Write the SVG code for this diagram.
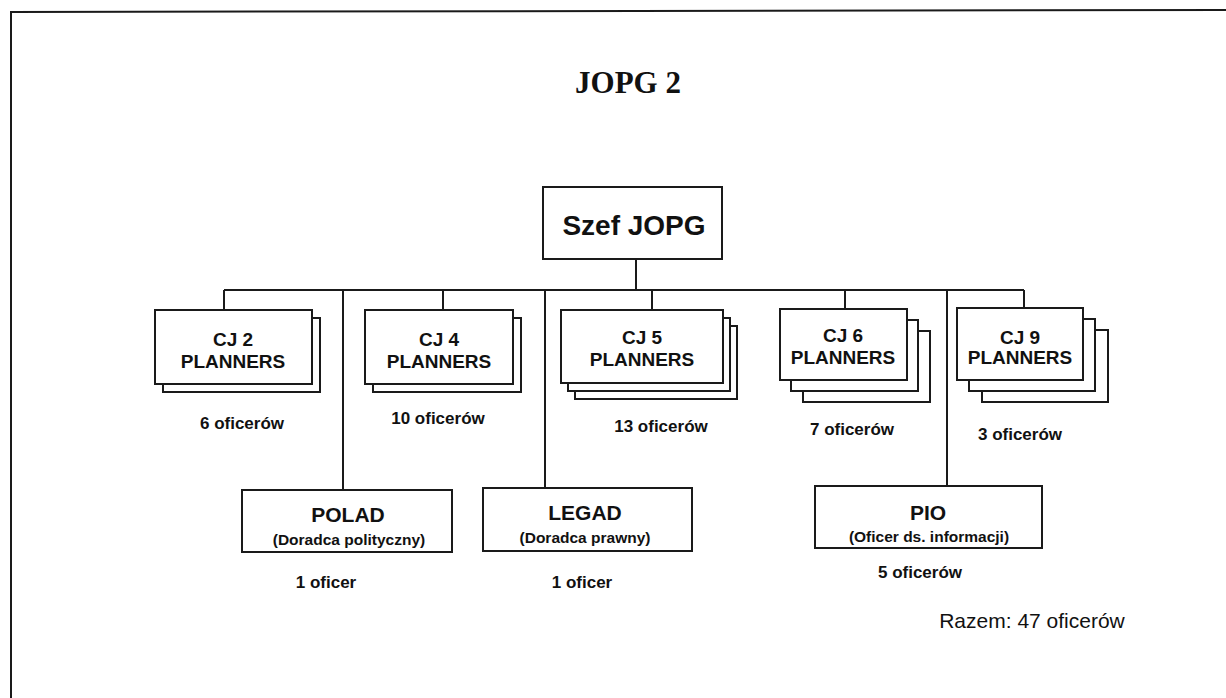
<svg xmlns="http://www.w3.org/2000/svg" width="1226" height="698" viewBox="0 0 1226 698">
<style>
.frame{fill:none;stroke:#1a1a1a;stroke-width:2}
.box{fill:#fff;stroke:#1a1a1a;stroke-width:2}
.ln{fill:none;stroke:#1a1a1a;stroke-width:2}
.t{font-family:"Liberation Sans",Arial,sans-serif;fill:#111;text-anchor:middle}
.b{font-weight:bold}
.title{font-family:"Liberation Serif","Times New Roman",serif;font-weight:bold;font-size:31px;fill:#111;text-anchor:middle}
.cj{font-size:19px;font-weight:bold}
.cnt{font-size:17px;font-weight:bold}
.hd{font-size:21px;font-weight:bold}
.sub{font-size:15.5px;font-weight:bold}
</style>
<rect x="0" y="0" width="1226" height="698" fill="#fff"/>
<path class="frame" d="M11,698 L11,12 L1226,10"/>
<text class="title" x="628" y="93">JOPG 2</text>

<g id="connectors">
<path class="ln" d="M636,259 V290"/>
<path class="ln" d="M224,290 H1024"/>
<path class="ln" d="M224,290 V310"/>
<path class="ln" d="M343,290 V490"/>
<path class="ln" d="M443,290 V310"/>
<path class="ln" d="M545,290 V488"/>
<path class="ln" d="M652,290 V310"/>
<path class="ln" d="M845,290 V309"/>
<path class="ln" d="M947,290 V486"/>
<path class="ln" d="M1024,290 V308"/>
</g>

<g id="szef">
<rect class="box" x="543" y="187" width="179" height="72"/>
<text class="t b" x="634" y="235" font-size="28">Szef JOPG</text>
</g>

<g id="cj2">
<rect class="box" x="163" y="318" width="157" height="74"/>
<rect class="box" x="155" y="310" width="157" height="74"/>
<text class="t cj" x="233" y="346">CJ 2</text>
<text class="t cj" x="233" y="368">PLANNERS</text>
<text class="t cnt" x="242" y="429">6 oficerów</text>
</g>

<g id="cj4">
<rect class="box" x="373" y="318" width="148" height="74"/>
<rect class="box" x="365" y="310" width="148" height="74"/>
<text class="t cj" x="439" y="346">CJ 4</text>
<text class="t cj" x="439" y="368">PLANNERS</text>
<text class="t cnt" x="438" y="424">10 oficerów</text>
</g>

<g id="cj5">
<rect class="box" x="575" y="326" width="162" height="73"/>
<rect class="box" x="568" y="318" width="162" height="73"/>
<rect class="box" x="561" y="310" width="162" height="73"/>
<text class="t cj" x="642" y="344">CJ 5</text>
<text class="t cj" x="642" y="366">PLANNERS</text>
<text class="t cnt" x="661" y="432">13 oficerów</text>
</g>

<g id="cj6">
<rect class="box" x="803" y="331" width="127" height="71"/>
<rect class="box" x="791" y="320" width="127" height="71"/>
<rect class="box" x="780" y="309" width="127" height="71"/>
<text class="t cj" x="843" y="342">CJ 6</text>
<text class="t cj" x="843" y="364">PLANNERS</text>
<text class="t cnt" x="852" y="435">7 oficerów</text>
</g>

<g id="cj9">
<rect class="box" x="982" y="330" width="126" height="72"/>
<rect class="box" x="969" y="319" width="126" height="72"/>
<rect class="box" x="957" y="308" width="126" height="72"/>
<text class="t cj" x="1020" y="344">CJ 9</text>
<text class="t cj" x="1020" y="364">PLANNERS</text>
<text class="t cnt" x="1020" y="440">3 oficerów</text>
</g>

<g id="polad">
<rect class="box" x="242" y="490" width="210" height="62"/>
<text class="t hd" x="348" y="522">POLAD</text>
<text class="t sub" x="349" y="545">(Doradca polityczny)</text>
<text class="t cnt" x="326" y="588">1 oficer</text>
</g>

<g id="legad">
<rect class="box" x="483" y="488" width="209" height="63"/>
<text class="t hd" x="585" y="520">LEGAD</text>
<text class="t sub" x="585" y="543">(Doradca prawny)</text>
<text class="t cnt" x="582" y="588">1 oficer</text>
</g>

<g id="pio">
<rect class="box" x="815" y="486" width="227" height="62"/>
<text class="t hd" x="928" y="520">PIO</text>
<text class="t sub" x="929" y="542">(Oficer ds. informacji)</text>
<text class="t cnt" x="920" y="578">5 oficerów</text>
</g>

<text class="t" x="1032" y="628" font-size="21">Razem: 47 oficerów</text>
</svg>
